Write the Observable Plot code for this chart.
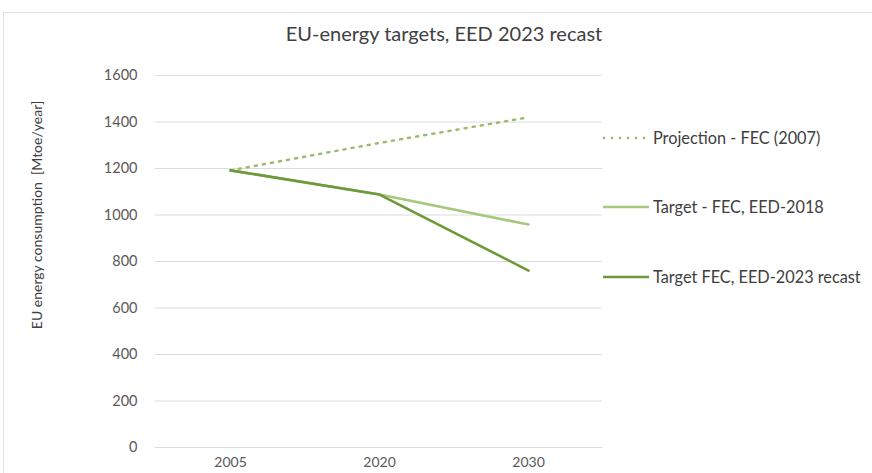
<!DOCTYPE html>
<html>
<head>
<meta charset="utf-8">
<script src="https://cdn.jsdelivr.net/npm/d3@7"></script>
<script src="https://cdn.jsdelivr.net/npm/@observablehq/plot@0.6"></script>
<style>
  html, body { margin: 0; padding: 0; background: #fff; }
  #chart { position: relative; width: 872px; height: 473px; }
  svg { font-family: Lato, "Open Sans", sans-serif; }
</style>
</head>
<body>
<div id="chart"></div>
<script>
const years = ["2005", "2020", "2030"];
const projectionFEC2007 = [1192, 1310, 1420];
const targetEED2018 = [1192, 1088, 959];
const targetEED2023 = [1192, 1088, 761];
const seriesNames = ["Projection - FEC (2007)", "Target - FEC, EED-2018", "Target FEC, EED-2023 recast"];
const seriesColors = ["#9db96c", "#a6c77e", "#6c9a3b"];
const yTicks = [0, 200, 400, 600, 800, 1000, 1200, 1400, 1600];
const titleText = "EU-energy targets, EED 2023 recast";
const yLabel = "EU energy consumption  [Mtoe/year]";

const rows = [];
[projectionFEC2007, targetEED2018, targetEED2023].forEach((vals, s) => {
  years.forEach((y, i) => rows.push({series: seriesNames[s], year: y, value: vals[i]}));
});

const plot = Plot.plot({
  width: 872,
  height: 473,
  marginLeft: 155,
  marginRight: 270,
  marginTop: 75,
  marginBottom: 26,
  style: {fontFamily: "Lato, 'Open Sans', sans-serif", background: "#fff"},
  x: {type: "point", domain: years, padding: 0.5, label: null},
  y: {domain: [0, 1600], label: null},
  marks: [
    Plot.gridY(yTicks, {stroke: "#dcdcdc", strokeOpacity: 1, strokeWidth: 1}),
    Plot.axisY(yTicks, {tickSize: 0, tickPadding: 18, fontSize: 14.5, fill: "#595959", tickFormat: "d", label: null}),
    Plot.axisX(years, {tickSize: 0, tickPadding: 10, fontSize: 14, fill: "#595959", label: null}),
    Plot.line(rows.filter(d => d.series === seriesNames[0]), {
      x: "year", y: "value", stroke: seriesColors[0], strokeWidth: 2.4, strokeDasharray: "2.2,6"
    }),
    Plot.line(rows.filter(d => d.series === seriesNames[1]), {
      x: "year", y: "value", stroke: seriesColors[1], strokeWidth: 2.6
    }),
    Plot.line(rows.filter(d => d.series === seriesNames[2]), {
      x: "year", y: "value", stroke: seriesColors[2], strokeWidth: 2.6
    })
  ]
});

document.getElementById("chart").appendChild(plot);

const svg = d3.select(plot);
// outer chart border
svg.insert("rect", ":first-child")
  .attr("x", 3.5).attr("y", 12.5).attr("width", 880).attr("height", 470)
  .attr("fill", "none").attr("stroke", "#e3e3e3");

// title
svg.append("text")
  .attr("x", 444).attr("y", 41)
  .attr("text-anchor", "middle")
  .attr("font-size", 20)
  .attr("fill", "#404040")
  .text(titleText);

// y-axis label
svg.append("text")
  .attr("transform", "translate(37,215) rotate(-90)")
  .attr("text-anchor", "middle")
  .attr("dy", "0.35em")
  .attr("font-size", 14)
  .attr("fill", "#404040")
  .text(yLabel);

// legend
const legendY = [138, 207, 277];
const dashes = ["2.2,5.8", null, null];
seriesNames.forEach((name, i) => {
  const g = svg.append("g");
  const ln = g.append("line")
    .attr("x1", 603).attr("x2", 649)
    .attr("y1", legendY[i]).attr("y2", legendY[i])
    .attr("stroke", seriesColors[i]).attr("stroke-width", 2.6);
  if (dashes[i]) ln.attr("stroke-dasharray", dashes[i]);
  g.append("text")
    .attr("x", 653).attr("y", legendY[i])
    .attr("dy", "0.35em")
    .attr("text-anchor", "start")
    .attr("font-size", 16.3)
    .attr("fill", "#404040")
    .text(name);
});
</script>
</body>
</html>
